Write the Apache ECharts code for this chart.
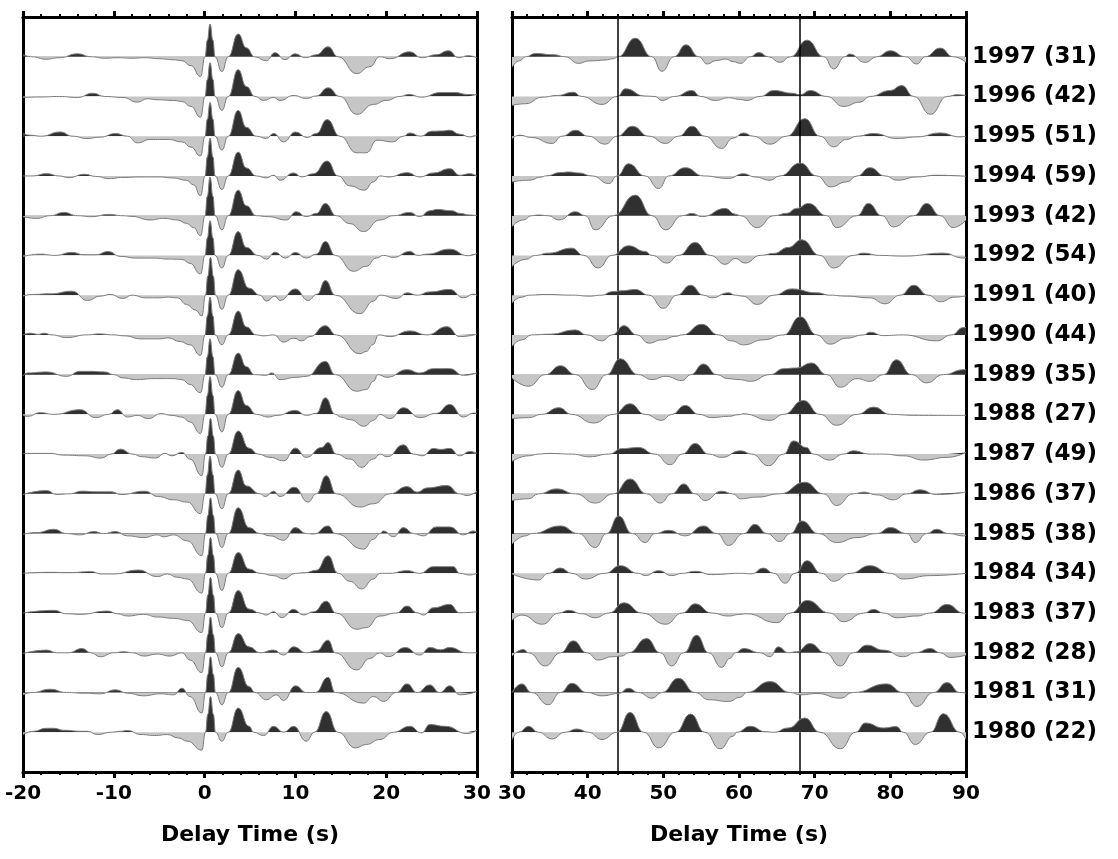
<!DOCTYPE html>
<html><head><meta charset="utf-8">
<script src="https://cdn.jsdelivr.net/npm/echarts@6/dist/echarts.min.js"></script>
<style>html,body{margin:0;padding:0;background:#fff}#c{width:1118px;height:859px}</style>
</head><body><div id="c"></div>
<script>
// Station years (top to bottom) and event counts
const years = ['1997','1996','1995','1994','1993','1992','1991','1990','1989','1988','1987','1986','1985','1984','1983','1982','1981','1980'];
const counts = [31,42,51,59,42,54,40,44,35,27,49,37,38,34,37,28,31,22];
const markerTimes = [44, 68];

// Left panel traces: [delay time (s), amplitude]
const L1997 = [[-20,2],[-19,0],[-17.5,-2.5],[-16,-1],[-14,3],[-12.5,0],[-11,-1.5],[-9.5,-1],[-8,-1.5],[-6.5,-1],[-5,-2],[-3.5,-3],[-2.5,-4],[-1.5,-9],[-0.45,-20],[0.05,0],[0.3,16.5],[0.6,33],[0.92,16.5],[1.15,0],[1.9,-15],[2.6,0],[3.7,23],[4.6,9],[5.5,0],[6.8,-4],[7.75,4],[8.85,-3],[9.95,3],[11.1,-1],[12.3,2],[13.6,10],[14.7,0],[16.75,-17],[18.2,-10],[19.3,0],[20.4,-2],[22.6,5],[23.9,-1],[25.5,2],[26.85,6],[28,-1],[29,1],[30,-1]];
const L1996 = [[-20,-1],[-18,-0.5],[-16,0],[-14,-1],[-12.3,3.3],[-11,0],[-9,-1],[-7.4,-5.7],[-6.3,-2.3],[-5.2,-3.3],[-3.4,-4],[-2.5,-5],[-1.5,-10],[-0.45,-21],[0.05,0],[0.3,17],[0.6,34],[0.92,17],[1.15,0],[1.9,-14],[2.6,0],[3.7,27],[4.6,10],[5.55,0],[6.5,-4],[7.6,-1],[8.3,-4],[9.8,1],[11.2,-2],[12.3,0.5],[13.6,8.7],[14.9,0],[16.75,-18],[18.6,-8],[20,-4],[21.5,0],[22.5,2],[23.9,-0.7],[26,4],[27.5,4],[29,2],[30,1.7]];
const L1995 = [[-20,2.7],[-19.2,1],[-18,0],[-15.9,4.3],[-14.5,0],[-13,-2.3],[-11.5,-1],[-9.8,2.7],[-8.5,0],[-7.4,-6.7],[-6,-3.3],[-4,-3.3],[-2.5,-5.7],[-1.5,-11],[-0.45,-20],[0.05,0],[0.3,17],[0.6,34],[0.92,17],[1.15,0],[1.9,-14],[2.6,0],[3.7,26],[4.6,9],[5.7,0],[6.8,-2.3],[7.6,2.7],[8.7,-5.7],[10,4.3],[11.3,-1.3],[12.3,2.7],[13.5,16.7],[14.9,0],[16.75,-16.7],[17.8,-16.7],[19,-4],[20.7,-5.7],[21.9,0],[22.6,3.3],[23.8,0],[25,5],[26.2,5.3],[27,6],[28.1,2],[29.2,-0.7],[30,1]];
const L1994 = [[-20,0],[-19,0],[-17.4,2.3],[-16,0],[-15,-1.7],[-13.2,1.7],[-12,-0.5],[-10.5,-2.7],[-9,-1.5],[-7,-1],[-5,-1],[-3.5,-2],[-2,-4.3],[-1.2,-9],[-0.45,-20],[0.05,0],[0.3,19],[0.6,38],[0.92,19],[1.15,0],[1.9,-13.7],[2.6,0],[3.7,24],[4.6,8],[5.7,0],[6.8,-2],[7.6,0.7],[8.3,-4.3],[9.8,3],[10.7,-1],[12,2.3],[13.5,15],[14.7,0],[16,-10],[17.6,-14.3],[18.6,-6],[19.3,0],[20.3,-1],[22.3,3.3],[23.7,-1],[25.2,3],[27,7.3],[28.1,0.7],[29.2,2.3],[30,-0.3]];
const L1993 = [[-20,-1],[-18.5,-2.7],[-17,0],[-15.5,3.3],[-14,0],[-12.5,-1],[-10.5,1.3],[-9,0],[-8,-0.7],[-6,-4.3],[-4.5,-2.7],[-3,-4.3],[-2,-7.7],[-1.2,-12],[-0.45,-20.3],[0.05,0],[0.3,19.5],[0.6,39],[0.92,19.5],[1.15,0],[1.9,-14.3],[2.6,0],[3.7,25.7],[4.6,10],[5.7,0],[7,-1],[9,-4.3],[10.1,4],[11.2,-1],[12.3,2.3],[13.3,12.3],[14.5,0],[16,-8],[17.5,-16],[19.3,-4.3],[20.8,0],[22.6,3.3],[23.7,-1],[24.8,5],[25.6,6.3],[27.2,5],[28.1,2.3],[29.2,0.7],[30,0]];
const L1992 = [[-20,-1],[-18,1.3],[-16.5,0],[-14.6,3],[-13.3,0.7],[-12,0.7],[-10.6,4],[-9.3,-1],[-7.5,-2.7],[-5.5,-2.7],[-4,-3.7],[-2.5,-4],[-1.6,-8],[-0.45,-18.7],[0.05,0],[0.3,17.5],[0.6,35],[0.92,17.5],[1.15,0],[1.9,-12.7],[2.6,0],[3.7,24],[4.6,8],[5.9,0],[6.8,-3.7],[7.75,3.3],[8.9,-2.7],[10,3],[11.2,-2.7],[12.3,1.3],[13.3,14],[14.4,0],[16.4,-16],[17.8,-11],[18.9,-2.7],[19.7,0],[20.8,-2],[22.6,4],[23.5,0],[24.5,1.3],[27,6.3],[29,-0.3],[30,2]];
const L1991 = [[-20,-1],[-19,0.7],[-17,1.3],[-14.6,4],[-12.9,-5.3],[-11.5,-1],[-10.4,0.7],[-9,-3.3],[-8,0],[-6.5,-2.7],[-5,-2.7],[-4,-2],[-3,-2.7],[-2,-9.3],[-1,-15],[-0.3,-21],[0.1,0],[0.35,19],[0.65,38],[0.97,19],[1.2,0],[1.9,-14.3],[2.6,0],[3.7,25.7],[4.9,7],[6.1,0],[6.8,-6],[7.75,-1],[8.3,-5.3],[10,6.3],[11.4,-5.3],[12.4,1],[13.3,14.7],[14.4,0],[17.1,-18.7],[18.6,-6],[19.3,0],[21.2,-3.3],[22.3,2.3],[23.4,0],[24.8,3.3],[27,5.7],[28.5,-2.7],[29.6,1],[30,0]];
const L1990 = [[-20,0],[-19.2,1.7],[-18.3,0.5],[-17.7,1.7],[-16.8,0],[-15.2,-2.7],[-13,0],[-11.6,1],[-10,0],[-8.8,-1],[-7,-4],[-5,-4],[-4,-3],[-2.7,-6.7],[-1.6,-10],[-0.45,-20.7],[0.05,0],[0.3,19],[0.6,38],[0.92,19],[1.15,0],[1.9,-10],[2.6,0],[3.7,24],[4.6,8],[5.7,0],[6.5,-1],[7.6,0],[8.7,-7.3],[9.8,-3.3],[10.7,-6],[11.6,-1.7],[13.3,9.3],[14.5,0],[17.1,-19],[17.8,-16.7],[18.5,-10],[19.2,0],[20.4,-1.7],[22.6,4],[24.5,0],[26.7,8.3],[28.1,-1.7],[30,0.7]];
const L1989 = [[-20,-1],[-19.5,1.7],[-17.4,2.7],[-15.2,-1.7],[-13.7,3.3],[-12.6,3.3],[-11,2.7],[-10,0],[-9,-3.3],[-7.5,-5],[-5.5,-4],[-3.5,-4],[-2.5,-5],[-1.6,-10],[-0.45,-18.3],[0.05,0],[0.3,18],[0.6,36],[0.92,18],[1.15,0],[1.9,-12.7],[2.6,0],[3.7,21.7],[4.6,8],[5.5,0],[6.8,-0.7],[7.4,1.7],[8.3,-5],[10.1,-2.7],[11.2,-1.7],[13.3,13.3],[14.4,0],[16.75,-16.7],[17.8,-15],[18.6,-6.7],[19.1,0],[20.1,-2.7],[22.3,5],[23.7,1.7],[25.2,6],[27,6],[28.5,-0.7],[30,1.7]];
const L1988 = [[-20,-1],[-19.5,-2],[-18.1,1.7],[-16.6,0],[-13.7,4.7],[-12,-3.3],[-10.6,0],[-9.6,4.7],[-8.5,-2.7],[-7.4,-1],[-6.2,-4.3],[-4.8,0.7],[-3.6,-1],[-2.5,-2.7],[-1.6,-7.7],[-0.45,-19.3],[0.05,0],[0.3,19],[0.6,38],[0.92,19],[1.15,0],[1.9,-17.7],[2.6,0],[3.7,24],[4.6,9],[5.7,0],[7,-2.7],[8,-1],[10,4],[11.2,-1],[12.3,1],[13.3,16.7],[14.4,0],[15,-2.7],[16,-5.3],[17.6,-12],[18.6,-6],[19.3,0],[20.4,-4.3],[21.9,6.7],[23.7,-3.3],[25.5,1],[27,10],[28.5,-2.7],[29.6,1.3],[30,1]];
const L1987 = [[-20,0.7],[-17,0.7],[-15.5,-1],[-13.2,-1.7],[-11.4,-4],[-10.3,0],[-9.3,5],[-7.9,0],[-6.9,-2.7],[-5.4,-4],[-4.4,0.7],[-3.6,-1.7],[-2.5,1.7],[-1.6,-5],[-0.3,-21.7],[0.1,0],[0.35,18],[0.65,36],[0.97,18],[1.2,0],[1.9,-13.3],[2.6,0],[3.7,23.3],[4.9,6],[5.9,0],[7.2,-3.3],[8.7,-6.7],[10,6],[11.2,-3.3],[12.9,6.7],[13.6,11.7],[14.5,0],[16,-5],[17.3,-13.3],[18.6,-5],[19.3,0],[20.1,-2.7],[21.9,9.3],[23,0],[24,-1.7],[25.2,5.7],[26,4.7],[27,5.7],[28.1,-1.7],[29.2,2.7],[30,0.7]];
const L1986 = [[-20,-0.7],[-17.4,3.3],[-16.3,-0.7],[-14.9,0],[-13.5,2.7],[-11.8,2],[-10.3,2],[-9.2,-0.7],[-6.6,2.7],[-5.1,-2.7],[-3.4,-6],[-1.9,-8.3],[-0.45,-20],[0.05,0],[0.3,19],[0.6,38],[0.92,19],[1.15,0],[1.9,-15],[2.6,0],[3.7,24],[4.6,8],[6.1,0],[6.7,-2.7],[7.6,2.7],[8.3,-2.7],[9.9,6.7],[11.4,-8.3],[12.3,0],[13.4,18.3],[14.5,0],[17.1,-13.3],[18.6,-10],[20.4,0],[22.3,7.3],[23.4,1.7],[24.5,6],[26.7,8.3],[28.1,0],[28.9,-1.7],[30,2.7]];
const L1985 = [[-20,-0.7],[-18.5,1],[-16.6,4.3],[-15.2,0],[-13.7,-1.3],[-12.2,2],[-11.1,0],[-9.8,2],[-8.5,-2.3],[-6.7,-4],[-5.2,-1.3],[-4.5,-3.3],[-3.4,-1.3],[-1.9,-7.3],[-0.3,-22.3],[0.1,0],[0.35,18],[0.65,36],[0.97,18],[1.2,0],[1.9,-14],[2.6,0],[3.7,26],[4.9,6],[6.1,0],[7.2,-2.3],[8.7,-6.7],[10,6],[11.2,0],[12,-0.5],[13.6,7.7],[14.4,0],[17.5,-15.7],[18.6,-5.7],[19.3,0],[19.7,2.7],[20.8,-3.3],[21.9,6],[23,0],[24.1,-2.3],[25.5,6.7],[27,6.7],[28.5,-1.3],[29.6,2.7],[30,1]];
const L1984 = [[-20,0],[-17,1],[-15,0.7],[-12.5,1.7],[-11.4,-0.7],[-10,-0.7],[-7.3,3.3],[-5.2,-3.3],[-4.1,-0.7],[-3,-4],[-1.9,-5.7],[-0.3,-20],[0.1,0],[0.35,18],[0.65,36],[0.97,18],[1.2,0],[1.9,-17.3],[2.6,0],[3.7,21],[4.9,4.3],[6.1,0],[7.6,-2.3],[8.7,-5.7],[10,0],[11,0.5],[12.3,3],[13.6,17.7],[14.7,0],[16,-8],[17.3,-15.7],[18.6,-5.7],[19.3,0],[20.4,0],[22.3,2.7],[23.7,0],[25.2,6.7],[27.4,6.7],[28.1,0],[29.2,-1.7],[30,0]];
const L1983 = [[-20,0],[-16.6,2.7],[-15.2,-0.7],[-13.7,-1.3],[-10.7,2],[-9.6,-0.7],[-8.5,-3],[-6.7,-1.3],[-5.2,-4],[-3.4,-5.3],[-1.9,-7.3],[-0.3,-19.7],[0.1,0],[0.35,18],[0.65,36],[0.97,18],[1.2,0],[1.9,-14.7],[2.6,0],[3.7,22.7],[4.9,4],[6.1,0],[6.8,-2],[7.6,1.3],[8.5,-4.7],[9.8,3.7],[10.9,-2],[12,1.3],[13.4,12],[14.5,0],[16.75,-16.3],[17.8,-14.7],[19.3,-3],[21.1,0],[22.3,7],[23.4,0.3],[24.1,-2],[25.2,5.3],[27,8.7],[28.1,0.3],[30,1.3]];
const L1982 = [[-20,-0.7],[-17.4,2.7],[-16.3,0],[-15,0],[-13.5,4.3],[-12.5,0],[-11.5,-4],[-10,0],[-8.9,1],[-7.9,0],[-6.7,-3.3],[-5.2,-1.3],[-3.8,-3.3],[-2.5,0],[-1.6,-7.3],[-0.3,-20],[0.1,0],[0.35,18],[0.65,36],[0.97,18],[1.2,0],[1.9,-14],[2.6,0],[3.7,19.3],[4.9,6],[6.1,0],[7.6,2.7],[8.7,-2.3],[9.8,6],[11.2,0],[12.3,2],[13.6,12.7],[14.4,0],[16.75,-17.3],[18.2,-5.7],[19.3,0],[20.2,-4],[22.1,5.3],[23.7,-2.3],[24.8,5.3],[26,3],[27,5.3],[28.9,0],[30,0]];
const L1981 = [[-20,-2.3],[-19,0],[-17,3.3],[-15.2,0],[-13.3,-0.7],[-11.5,-1.3],[-9.8,2.7],[-8.5,-0.7],[-6.7,-3.3],[-4.9,-1.3],[-3.4,-2.3],[-2.5,4.3],[-1.6,-4],[-0.3,-20.7],[0.1,0],[0.35,18],[0.65,36],[0.97,18],[1.2,0],[1.9,-12.3],[2.6,0],[3.7,25.3],[4.9,6],[5.55,0],[6.8,-7.3],[7.9,-2.3],[8.7,-8],[10,6.7],[11.2,0],[12.2,0],[13.6,15.3],[14.4,0],[17.5,-10.7],[18.6,-4],[19.7,-9],[21.1,0],[22.3,8.7],[23.4,0],[24.8,7.7],[25.9,0],[27,6.7],[28.1,-2.3],[30,1]];
const L1980 = [[-20,-2.3],[-18.8,1],[-17.5,4],[-16.6,4],[-15.5,2],[-13.6,1],[-12.9,1],[-11.8,-2.3],[-10.3,0],[-9.2,1],[-8.5,1.7],[-7,-2.3],[-5.5,-3.3],[-4.1,-2.3],[-2.9,-5.7],[-1.9,-9],[-0.3,-18],[0.1,0],[0.35,18],[0.65,36],[0.97,18],[1.2,0],[1.9,-9],[2.6,0],[3.7,24.3],[4.9,6],[5.4,0],[6.5,-3.3],[7.6,6],[8.7,0],[9.8,6],[11.2,-9],[12.1,0],[13.4,21],[14.7,0],[16.6,-15.7],[17.8,-12.3],[19.3,-7.3],[20.8,0],[22.6,6],[23.9,-0.7],[24.8,7.7],[26.5,6],[28.9,-1.3],[30,2]];

// Right panel traces
const R1997 = [[30,-10.7],[31,-4],[31.8,0],[33.1,3.3],[35.5,2],[37,0],[38.8,-6.7],[40.1,-4.3],[41,-4],[42.3,-3.3],[43.4,-2],[44,0],[46.3,18.7],[48.5,0],[49.8,-14.7],[51.4,0],[53,12],[54.7,0],[55.8,-7.3],[56.9,-4],[58.2,-2.3],[59.3,-5],[60.2,-6.7],[61.5,0],[62.6,4.3],[63.9,0],[65.4,-5.7],[66.8,0],[69,16.7],[71.2,0],[72.5,-12.3],[74,0],[74.6,2.7],[76.7,-5.7],[78.2,0],[80,6],[82,0],[83.5,-7.3],[84.6,0],[86.6,8.7],[88.3,0],[90,-5.7]];
const R1996 = [[30,-9],[31.8,-7.3],[34,-0.7],[36,1],[38.1,4.3],[39.2,0],[41.9,-8],[43.9,0],[45,7.7],[47.5,0.5],[48.9,0],[49.8,-4],[51.5,0],[53.8,6],[54.9,0],[56.9,-4],[58.6,-1.3],[60.2,-3],[61,-4],[62.8,0],[64.6,6],[67,3.3],[68.1,1.7],[69.4,6],[71.6,0],[73.8,-10],[76,-5.7],[77.3,0],[80,6],[81.5,11],[83.1,0],[85.3,-18],[87.5,0],[88.8,1.7],[90,1]];
const R1995 = [[30,-2.3],[31,1],[32.6,-1.3],[35.3,-7.3],[36.6,0],[38.4,6],[40.1,0],[42.3,-8],[43.9,0],[45.9,10],[48.1,0],[50.3,-7.3],[52,0],[53.8,10],[55.5,0],[57.7,-12.3],[59.2,-2],[60.6,3.3],[61.9,0],[64.1,-8],[66.3,0],[68.7,17.7],[70.7,0],[72.5,-10.7],[74.2,-3.3],[75.6,0],[77.8,2.7],[80.9,-2.3],[83.5,-0.7],[86.6,3.3],[89.2,-0.7],[90,0]];
const R1994 = [[30,-6],[32.2,-4.3],[34,-1],[34.4,0],[36.5,3.5],[37.5,4],[38.8,3],[40.6,0],[42.8,-7.7],[43.9,0],[45.4,12.3],[47.6,0],[49.4,-12.7],[50.7,0],[52.9,8.3],[55.3,0],[58.6,-2.5],[60.6,2.3],[62.1,-1],[64.1,-4.3],[65.4,0],[68.1,13],[70.3,0],[72.1,-11],[74.2,-6],[75.6,0],[77.3,8.3],[79.3,0],[80.9,-4.3],[83.5,-1],[86.1,0.7],[90,-0.3]];
const R1993 = [[30,-11],[31.5,-4.3],[32.6,0],[33.5,0.7],[34.8,0],[36.2,-4.3],[38.4,4],[39.7,0],[41,-14.3],[43.4,0],[46.3,20.7],[48.5,0],[50.3,-14.3],[52.5,0],[53.8,2.3],[55.1,-1],[58.2,7.3],[59.5,1.5],[60.2,0],[62.4,-12],[64.6,0],[66.3,2.3],[67.6,7.3],[69.2,12.3],[71.6,0],[72.9,-12],[75.6,0],[77.1,12.3],[78.9,0],[80.4,-11.3],[83.1,0],[84.8,12.3],[86.6,0],[88.3,-12],[90,-4.3]];
const R1992 = [[30,-11],[31.8,-4],[33.1,0],[34.8,2.3],[37.9,7.3],[39.5,0],[41.4,-12.7],[43.2,0],[45.4,9.7],[47.6,4],[48.5,0],[50.5,-7.7],[52,0],[54.2,13],[56.2,0],[58.2,-9],[59.5,-3],[60.8,-7.7],[62.8,0],[64.6,2],[66.5,8],[68.3,15.7],[70.7,0],[72.5,-12.7],[75.1,0],[76.4,2.3],[78.6,0],[81.8,-0.7],[87,2.3],[89.7,-2.7],[90,-2]];
const R1991 = [[30,-7.7],[31.3,-2],[32.2,0],[34.4,0.7],[38,0],[40.2,-1],[41.9,0],[43.2,3.5],[44.6,4.5],[46.3,5.7],[48.1,0],[50,-13.3],[51.8,0],[53.6,10],[55.3,0],[56.4,-2.7],[58.6,2.3],[59.5,0],[60.5,-1],[62.4,-9.3],[64.6,0],[67,6.3],[70.3,2.3],[72,0],[74.2,-1],[77.3,-2.7],[79.3,-8.7],[81.3,0],[83.1,10],[85,0],[86.6,-6.7],[88.5,-2],[90,-0.7]];
const R1990 = [[30,-11.7],[31.3,-5],[32.6,0],[35,0.7],[38.4,5],[39.9,0],[41.9,-6],[43.2,0],[44.8,9.3],[46.5,0],[48.1,-8.3],[49.8,-5],[51.6,-1.5],[52.5,0],[55.1,10.7],[57.3,0],[59,-6],[60.6,-10],[63.2,-5],[65.9,0],[68.1,18.3],[70.3,0],[72,-9.3],[74.2,-3.3],[76.5,0],[77.3,2.7],[79.1,-0.7],[81.7,0],[86.1,-6],[88.1,0],[89.6,7.3],[90,7.5]];
const R1989 = [[30,-3.3],[32.2,-11.7],[34.4,0],[36.4,9],[38.4,0],[40.6,-15],[42.5,0],[44.3,16],[46.7,0],[48.5,-5],[50.3,-1.7],[52.5,-6],[53.6,0],[55.3,10.7],[57.1,0],[58.5,-4],[60,-5],[61.5,-6.7],[64.1,0],[65.9,6],[67.6,6.7],[69.6,11.7],[71.6,0],[73.4,-12.7],[75.6,-4],[77.3,-6.7],[79.1,0],[80.8,15],[82.8,0],[84.8,-8.3],[87,0],[89.7,5],[90,5]];
const R1988 = [[30,-4.3],[32.2,-3.3],[33.9,0],[36.2,6.7],[37.9,0],[40.8,-8.7],[43.4,0],[45.6,10.7],[47.6,0],[49.8,-6],[51.1,0],[52.9,9],[54.7,0],[56.4,-3.3],[58.6,-2],[60,-0.3],[60.6,0.5],[64.1,-6],[65.9,0],[68.5,14],[70.7,0],[72.9,-11],[75.6,0],[77.8,7.3],[80,0],[83.1,-1],[90,-1]];
const R1987 = [[30,-7.3],[32.2,-1.7],[33.5,0],[34.8,0.7],[38,0],[40.2,-2.7],[42.8,0],[44.5,5.5],[46.7,6.7],[48.9,0],[50.9,-10.7],[52.5,0],[54.2,10.7],[56,0],[57.7,-3.3],[60.2,3.3],[61.7,0],[63.9,-11.7],[65.9,0],[67.2,13.3],[68.9,6.7],[69.8,0],[72,-6],[73.8,0],[75.1,3.3],[77.3,0],[79.1,0],[81.7,-1.7],[84.4,-6],[87.5,-3.3],[90,1.7]];
const R1986 = [[30,-6.7],[32.2,-5],[33.5,0],[35.9,5],[38.4,0],[41,-9.3],[43.4,0],[45.6,15],[47.8,0],[49.6,-9.3],[51.1,0],[52.7,10],[54.2,0],[55.5,-6.7],[57.7,2.7],[59.2,0],[60.2,-5],[62.4,-3.3],[65.4,0],[68.7,11.7],[71.2,0],[72.9,-11.7],[75.1,0],[76.5,1.7],[78.2,-1],[80.4,-6],[82.2,0],[83.9,4],[86.1,-0.7],[90,1.7]];
const R1985 = [[30,-10.7],[31.8,-2.3],[32.6,0],[36.4,7.7],[38.8,0],[41,-14],[42.5,0],[44.1,17.7],[45.9,0],[47.6,-9],[48.9,0],[50.7,3.3],[52.9,-2.3],[55.3,7.7],[57.1,0],[58.6,-12],[60.6,0],[62.1,9.3],[63.7,0],[65.4,-8],[66.8,0],[68.3,12.7],[70.5,0],[72.9,-9],[75.6,-4],[78.2,0],[80,6],[82.2,0],[83.3,-9],[84.8,0],[86.1,4.3],[87.7,0],[89.7,-2.3],[90,-2]];
const R1984 = [[30,-0.7],[33.5,-6.7],[34.8,0],[36.4,5.3],[37.9,0],[39.7,-5.7],[42.3,0],[44.3,7.7],[46.7,0],[47.6,-2.3],[49.4,2.7],[51.1,-2.3],[52.5,0],[54.2,2],[56.4,-1.3],[60.2,0],[61.7,-0.5],[63.2,5.3],[64.6,0],[66.1,-10],[67.4,0],[69,12.7],[70.9,0],[72.5,-8],[74.7,0],[77.3,7.7],[80,0],[81.7,-5.7],[85.3,-2.3],[90,0]];
const R1983 = [[30,-7.3],[31.3,-2],[34,-11.3],[36.2,0],[37.5,2.7],[39.2,-0.7],[41,-4.7],[42.8,0],[44.8,10.3],[47.2,0],[50.3,-11.3],[52.5,0],[54.2,9.3],[56.4,0],[58.6,-3],[60.2,-1.3],[61,-0.7],[65,-9.7],[66.8,0],[69,12.7],[72,0],[73.8,-8.7],[76.5,0],[77.8,3.7],[79.1,0],[80.9,-4.7],[83.5,-3],[85.3,0],[87.5,8.7],[89.7,0],[90,-1]];
const R1982 = [[30,-3.3],[31.5,3.3],[32.2,0],[34.4,-13.3],[36.4,0],[38.1,12],[39.9,0],[41.4,-7.3],[43.2,-4],[44.5,-3.3],[45.4,0],[47.8,14.3],[49.6,0],[51.1,-13.3],[52.7,0],[54.4,17.7],[56,0],[57.7,-14.7],[58.8,-5.7],[59.5,0],[60.6,4.3],[62.8,0],[64.1,-4],[65.2,6],[66.5,0],[67.6,1],[69.4,9.3],[71.4,0],[73.4,-13.3],[75.1,0],[76.9,7.7],[79.1,2.7],[81.7,-4],[83.3,0],[85.3,4.3],[86.6,0],[87.9,-4.7],[90,-2.3]];
const R1981 = [[30,0],[31.3,8.7],[32.6,0],[34.8,-12.3],[36.4,0],[37.9,9.3],[39.9,0],[41.9,-3.3],[44.1,-1],[45.4,4.3],[46.7,0],[48.5,-5.7],[49.8,0],[52,14.3],[54.2,0],[56,-7.3],[58.6,-9],[60.2,-4.7],[61,0],[64.1,11],[66.8,0],[68.1,-2.3],[70.3,-1],[73.4,-5.7],[75.1,0],[79.5,8.7],[81.7,0],[83.5,-14],[85.7,0],[87.5,10],[89.2,0],[90,-0.7]];
const R1980 = [[30,-7.3],[30.9,0],[32.2,6],[33.5,0],[35.3,-6.7],[37,0],[38.6,3.3],[40.1,0],[41.9,-7.3],[43.9,0],[45.6,20],[47.4,0],[49.4,-15.7],[51.6,0],[53.6,18.3],[55.5,0],[57.5,-16.7],[59.2,-4],[59.7,0],[61.5,6],[63.5,0.5],[64.6,0],[66.5,4.3],[68.7,14.3],[70.7,0],[73.4,-16.7],[75.4,0],[76.7,9.3],[79.1,4.3],[80.8,5.7],[81.7,0],[83.3,-12.3],[85.3,0],[87,18.7],[89.2,0],[90,-7.3]];

const leftTraces = [L1997,L1996,L1995,L1994,L1993,L1992,L1991,L1990,L1989,L1988,L1987,L1986,L1985,L1984,L1983,L1982,L1981,L1980];
const rightTraces = [R1997,R1996,R1995,R1994,R1993,R1992,R1991,R1990,R1989,R1988,R1987,R1986,R1985,R1984,R1983,R1982,R1981,R1980];

const SPACING = 40;
const N = years.length;
const FONT = '"DejaVu Sans", "Liberation Sans", Arial, sans-serif';
const DARK = '#303030', LIGHT = '#c6c6c6', LINE = '#7c7c7c';

function xAxisDef(gridIndex, min, max, position, withLabels) {
  return {
    type: 'value', gridIndex, min, max, interval: 10, position,
    axisLine: { show: true, onZero: false, lineStyle: { color: '#000', width: 3 } },
    axisTick: { show: true, inside: false, length: 6, lineStyle: { color: '#000', width: 3 } },
    minorTick: { show: true, splitNumber: 5, length: 3, lineStyle: { color: '#000', width: 2 } },
    splitLine: { show: false }, minorSplitLine: { show: false },
    axisLabel: { show: withLabels, color: '#000', fontFamily: FONT, fontWeight: 'bold', fontSize: 20, margin: 12 },
    name: withLabels ? 'Delay Time (s)' : '',
    nameLocation: 'middle', nameGap: 52,
    nameTextStyle: { color: '#000', fontFamily: FONT, fontWeight: 'bold', fontSize: 22 }
  };
}
function yAxisDef(gridIndex, position, withLabels) {
  return {
    type: 'value', gridIndex, position, min: -SPACING, max: SPACING * N, interval: SPACING,
    axisLine: { show: true, onZero: false, lineStyle: { color: '#000', width: 3 } },
    axisTick: { show: false }, splitLine: { show: false },
    axisLabel: withLabels ? {
      show: true, color: '#000', fontFamily: FONT, fontWeight: 'bold', fontSize: 23, margin: 6,
      formatter: function (v) {
        const i = N - 1 - Math.round(v / SPACING);
        return (i >= 0 && i < N) ? years[i] + ' (' + counts[i] + ')' : '';
      }
    } : { show: false }
  };
}

const series = [], visualMap = [];
[leftTraces, rightTraces].forEach(function (traces, p) {
  traces.forEach(function (tr, i) {
    const base = (N - 1 - i) * SPACING;
    const idx = series.length;
    const s = {
      type: 'line', xAxisIndex: p * 2, yAxisIndex: p * 2,
      data: tr.map(function (d) { return [d[0], base + d[1]]; }),
      smooth: 0.5, smoothMonotone: 'x', symbol: 'none', showSymbol: false,
      lineStyle: { color: LINE, width: 1 },
      areaStyle: { origin: base, opacity: 1 },
      silent: true, animation: false, z: 2 + i
    };
    if (p === 1 && i === N - 1) {
      s.markLine = {
        symbol: 'none', silent: true, label: { show: false }, animation: false,
        lineStyle: { color: '#000', width: 1.5, type: 'solid' },
        data: markerTimes.map(function (t) { return { xAxis: t }; })
      };
    }
    series.push(s);
    visualMap.push({
      type: 'piecewise', show: false, seriesIndex: idx, dimension: 1,
      pieces: [
        { gte: base - 300, lt: base, color: LIGHT },
        { gte: base, lte: base + 300, color: DARK }
      ],
      outOfRange: { color: LIGHT }
    });
  });
});

const chart = echarts.init(document.getElementById('c'), null, { renderer: 'canvas' });
chart.setOption({
  backgroundColor: '#fff',
  animation: false,
  grid: [
    { left: 23, width: 454, top: 17, bottom: 87 },
    { left: 512, width: 454, top: 17, bottom: 87 }
  ],
  xAxis: [
    xAxisDef(0, -20, 30, 'bottom', true),
    xAxisDef(0, -20, 30, 'top', false),
    xAxisDef(1, 30, 90, 'bottom', true),
    xAxisDef(1, 30, 90, 'top', false)
  ],
  yAxis: [
    yAxisDef(0, 'left', false),
    yAxisDef(0, 'right', false),
    yAxisDef(1, 'left', false),
    yAxisDef(1, 'right', true)
  ],
  visualMap: visualMap,
  series: series
});
</script>
</body></html>
